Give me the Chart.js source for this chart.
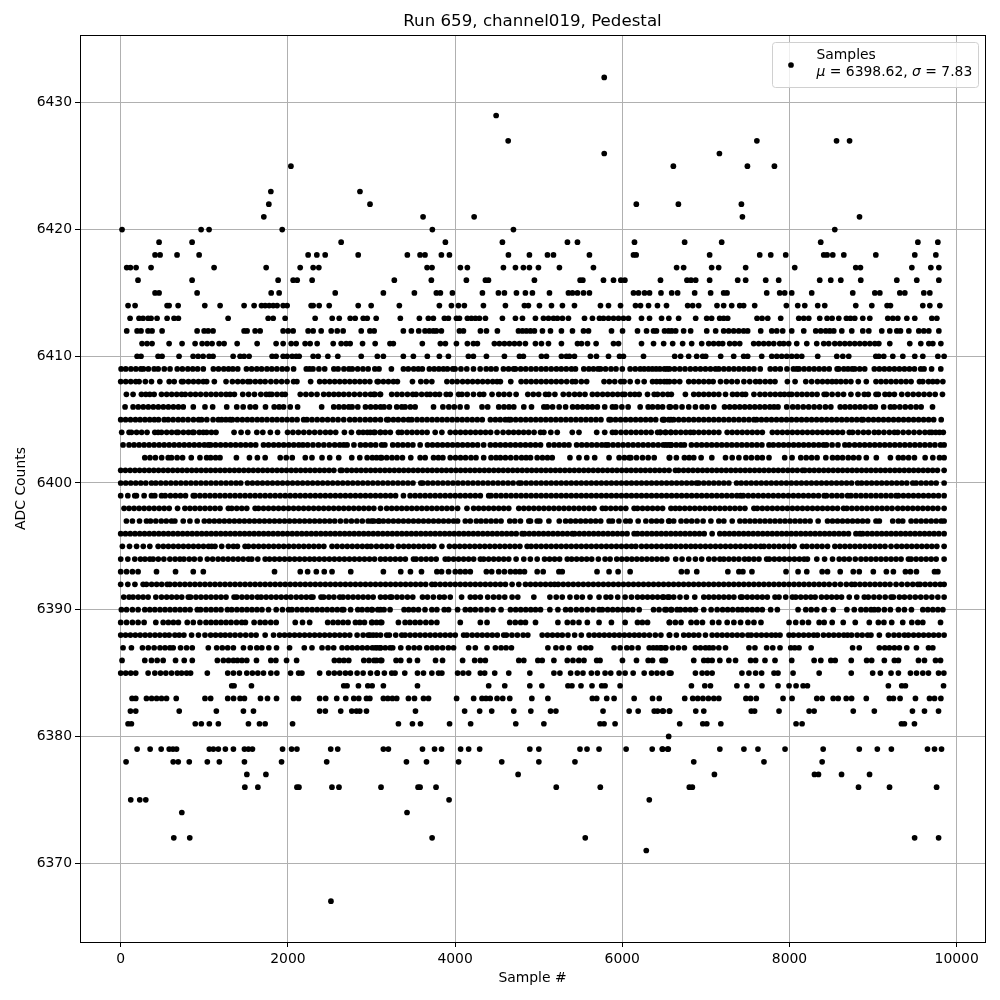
<!DOCTYPE html>
<html>
<head>
<meta charset="utf-8">
<title>Run 659, channel019, Pedestal</title>
<script src="https://cdn.jsdelivr.net/npm/chart.js@4/dist/chart.umd.min.js"></script>
<style>
  body { margin: 0; background: #fff; }
  canvas { display: block; }
</style>
</head>
<body>
<canvas id="chart_pedestal" width="1000" height="1000"></canvas>
<script>
// sample numbers, one list per ADC level
const s6432 = [5784];
const s6429 = [4491];
const s6427 = [4635, 7610, 8563, 8719];
const s6426 = [5784, 7162];
const s6425 = [2036, 6611, 7497, 7820];
const s6423 = [1796, 2862];
const s6422 = [1772, 2982, 6168, 6671, 7425];
const s6421 = [1712, 3617, 4228, 7437, 8838];
const s6420 = [16, 962, 1057, 1932, 3728, 4698, 8542];
const s6419 = [459, 854, 2637, 3884, 4566, 5344, 5464, 6146, 6746, 7189, 8374, 9536, 9775];
const s6418 = [411, 471, 674, 938, 2242, 2346, 2446, 2841, 3429, 3581, 3640, 3836, 3932, 4638, 4889, 5105, 5177, 5607, 6134, 6166, 7045, 7644, 7776, 7955, 8410, 8450, 8518, 8650, 9033, 9499, 9751];
const s6417 = [72, 116, 184, 363, 1117, 1740, 2147, 2302, 2370, 3665, 3724, 4063, 4147, 4578, 4722, 4817, 4889, 4997, 5248, 5655, 6650, 6734, 7069, 7153, 7476, 8063, 8793, 8849, 9464, 9691, 9787];
const s6416 = [207, 854, 1883, 2063, 2111, 2290, 3273, 3716, 4135, 4363, 4399, 4949, 5496, 5528, 5775, 5895, 5983, 6031, 6457, 6774, 6822, 6878, 7045, 7381, 7476, 7716, 7871, 8362, 8494, 8614, 8853, 9284, 9523, 9787];
const s6415 = [411, 459, 914, 1800, 1895, 2566, 3142, 3513, 3776, 3824, 3968, 4327, 4518, 4590, 4734, 4841, 4925, 5129, 5356, 5404, 5464, 5536, 5607, 6134, 6194, 6266, 6326, 6463, 6591, 6662, 6866, 7057, 7213, 7253, 7728, 7883, 7943, 8027, 8266, 8757, 9021, 9081, 9320, 9380, 9607, 9679];
const s6414 = [88, 172, 555, 579, 687, 1006, 1189, 1476, 1596, 1684, 1728, 1776, 1824, 1871, 1943, 1991, 2278, 2302, 2374, 2494, 2841, 2996, 3333, 3812, 3956, 4040, 4111, 4339, 4602, 4829, 4877, 5009, 5153, 5284, 5428, 5739, 5835, 5979, 6158, 6218, 6314, 6421, 6529, 6782, 6842, 6914, 7133, 7213, 7309, 7405, 7452, 7584, 7963, 8099, 8183, 8338, 8422, 8793, 8985, 9168, 9208, 9595, 9679, 9799];
const s6413 = [112, 219, 267, 327, 363, 435, 555, 638, 690, 1285, 1764, 1824, 1967, 2326, 2530, 2614, 2745, 2805, 2901, 2949, 3056, 3345, 3573, 3680, 3740, 3872, 3920, 4016, 4052, 4147, 4195, 4243, 4291, 4363, 4566, 4722, 4806, 4961, 5057, 5117, 5177, 5224, 5284, 5356, 5548, 5643, 5727, 5775, 5835, 5895, 5955, 6014, 6074, 6230, 6326, 6470, 6557, 6674, 6878, 7010, 7069, 7165, 7213, 7261, 7612, 7672, 7740, 7895, 8111, 8171, 8231, 8362, 8450, 8510, 8590, 8681, 8729, 8781, 8877, 8961, 9176, 9236, 9296, 9404, 9499, 9703, 9763];
const s6412 = [72, 196, 243, 327, 375, 495, 914, 998, 1046, 1105, 1476, 1512, 1608, 1668, 1943, 2003, 2063, 2242, 2302, 2398, 2518, 2590, 2661, 2877, 2981, 3032, 3381, 3477, 3565, 3640, 3692, 3740, 3776, 3836, 4052, 4100, 4303, 4375, 4506, 4758, 4806, 4853, 4901, 4949, 5045, 5141, 5272, 5404, 5536, 5596, 5871, 6003, 6182, 6290, 6374, 6409, 6505, 6553, 6591, 6639, 6734, 6818, 7010, 7117, 7213, 7273, 7333, 7393, 7452, 7500, 7656, 7788, 7848, 7919, 8027, 8171, 8314, 8374, 8434, 8482, 8530, 8626, 8745, 8877, 8949, 9104, 9200, 9284, 9328, 9428, 9547, 9607, 9667, 9787];
const s6411 = [255, 315, 375, 579, 734, 890, 974, 1034, 1093, 1177, 1237, 1393, 1632, 1859, 1943, 2039, 2099, 2206, 2266, 2350, 2542, 2637, 2697, 2745, 2893, 3044, 3221, 3261, 3608, 3824, 3884, 4016, 4147, 4219, 4267, 4470, 4530, 4590, 4650, 4710, 4770, 4841, 4961, 5033, 5117, 5272, 5464, 5512, 5584, 5687, 5895, 5955, 6230, 6374, 6495, 6603, 6722, 6830, 6950, 7034, 7093, 7153, 7201, 7285, 7345, 7405, 7572, 7632, 7692, 7752, 7812, 7883, 7931, 7991, 8087, 8207, 8326, 8410, 8470, 8542, 8602, 8662, 8721, 8781, 8841, 8901, 8961, 9021, 9069, 9200, 9439, 9571, 9667, 9715, 9811];
const s6410 = [196, 243, 447, 495, 698, 866, 926, 986, 1057, 1105, 1345, 1428, 1476, 1536, 1811, 1859, 1943, 1991, 2051, 2099, 2135, 2302, 2362, 2478, 2597, 2877, 3070, 3142, 3381, 3501, 3668, 3812, 3920, 4159, 4219, 4375, 4590, 4770, 4817, 5033, 5093, 5272, 5332, 5368, 5428, 5619, 5691, 5835, 5967, 6014, 6254, 6627, 6698, 6794, 6890, 6962, 6998, 7177, 7333, 7452, 7500, 7668, 7788, 7848, 7907, 7967, 8027, 8087, 8147, 8338, 8566, 8638, 8709, 9033, 9069, 9128, 9236, 9356, 9499, 9595, 9775, 9850];
const s6409 = [5, 60, 122, 181, 240, 272, 331, 400, 448, 521, 590, 676, 738, 803, 862, 920, 988, 1108, 1170, 1233, 1290, 1342, 1400, 1504, 1566, 1628, 1685, 1749, 1807, 1868, 1932, 1990, 2068, 2220, 2260, 2300, 2371, 2440, 2550, 2600, 2670, 2730, 2770, 2835, 2898, 2960, 3040, 3090, 3238, 3382, 3440, 3505, 3560, 3608, 3692, 3750, 3806, 3860, 3908, 3972, 4000, 4070, 4140, 4220, 4300, 4372, 4430, 4490, 4578, 4640, 4700, 4722, 4785, 4845, 4908, 4968, 5030, 5088, 5150, 5212, 5270, 5330, 5392, 5440, 5540, 5600, 5655, 5710, 5740, 5800, 5865, 5925, 6000, 6094, 6155, 6214, 6262, 6314, 6360, 6405, 6450, 6535, 6503, 6565, 6625, 6688, 6750, 6814, 6875, 6935, 6995, 7055, 7115, 7155, 7215, 7275, 7335, 7395, 7455, 7515, 7575, 7650, 7770, 7830, 7890, 7970, 8047, 8087, 8115, 8175, 8235, 8295, 8355, 8415, 8475, 8570, 8590, 8650, 8700, 8750, 8781, 8840, 8900, 9015, 9075, 9135, 9195, 9255, 9315, 9375, 9435, 9495, 9570, 9610, 9700, 9810];
const s6408 = [0, 60, 120, 180, 220, 295, 368, 468, 580, 640, 728, 748, 810, 870, 930, 988, 1028, 1120, 1260, 1336, 1400, 1460, 1520, 1548, 1610, 1670, 1728, 1796, 1860, 1925, 1990, 2068, 2108, 2272, 2380, 2440, 2500, 2560, 2620, 2680, 2740, 2800, 2860, 2920, 2980, 3068, 3082, 3142, 3202, 3262, 3310, 3490, 3590, 3655, 3722, 3902, 3965, 4025, 4090, 4150, 4210, 4270, 4330, 4390, 4450, 4502, 4542, 4666, 4790, 4850, 4910, 4970, 5030, 5090, 5150, 5210, 5270, 5335, 5402, 5442, 5510, 5574, 5782, 5845, 5910, 5982, 6022, 6094, 6182, 6262, 6362, 6410, 6454, 6534, 6503, 6565, 6623, 6687, 6795, 6855, 6915, 6975, 7035, 7087, 7175, 7245, 7310, 7375, 7455, 7525, 7595, 7647, 7710, 7770, 7827, 7975, 8067, 8195, 8265, 8335, 8395, 8455, 8510, 8560, 8615, 8675, 8735, 8823, 8919, 9035, 9095, 9155, 9215, 9275, 9335, 9395, 9455, 9555, 9595, 9663, 9715, 9767, 9835];
const s6407 = [68, 148, 248, 300, 348, 400, 488, 550, 610, 670, 728, 772, 835, 895, 956, 1020, 1080, 1140, 1200, 1260, 1308, 1360, 1460, 1530, 1600, 1676, 1740, 1780, 1808, 1870, 1930, 1968, 2148, 2215, 2280, 2348, 2428, 2490, 2550, 2608, 2668, 2730, 2795, 2860, 2925, 2988, 3028, 3108, 3042, 3102, 3242, 3305, 3365, 3430, 3494, 3534, 3600, 3662, 3702, 3762, 3814, 3894, 3942, 4042, 4082, 4145, 4220, 4294, 4342, 4442, 4522, 4585, 4650, 4730, 4870, 4935, 5000, 5082, 5122, 5194, 5294, 5362, 5430, 5490, 5554, 5642, 5702, 5765, 5825, 5885, 5945, 6002, 6030, 6095, 6150, 6202, 6302, 6382, 6422, 6485, 6545, 6587, 6755, 6855, 6915, 6975, 7035, 7095, 7155, 7235, 7319, 7375, 7435, 7475, 7575, 7647, 7707, 7770, 7830, 7890, 7940, 7995, 8027, 8090, 8150, 8210, 8270, 8330, 8415, 8443, 8510, 8580, 8647, 8735, 8820, 8895, 8943, 9035, 9063, 9143, 9195, 9255, 9343, 9415, 9480, 9545, 9610, 9675, 9743, 9830];
const s6406 = [52, 148, 210, 270, 330, 390, 450, 510, 570, 630, 690, 748, 868, 1008, 1100, 1268, 1388, 1465, 1548, 1612, 1732, 1836, 1895, 1948, 2028, 2116, 2404, 2548, 2610, 2670, 2728, 2768, 2836, 2928, 2990, 3050, 3108, 3150, 3214, 3302, 3362, 3402, 3465, 3522, 3742, 3854, 3925, 3990, 4060, 4142, 4322, 4390, 4522, 4585, 4645, 4702, 4822, 4914, 5062, 5102, 5166, 5245, 5322, 5406, 5465, 5525, 5585, 5642, 5702, 5790, 5882, 5922, 5995, 6070, 6214, 6310, 6362, 6425, 6482, 6562, 6575, 6640, 6715, 6795, 6875, 6955, 7015, 7095, 7223, 7285, 7345, 7405, 7465, 7525, 7585, 7645, 7705, 7765, 7815, 7863, 7967, 8039, 8100, 8165, 8230, 8295, 8360, 8430, 8495, 8607, 8665, 8725, 8785, 8845, 8905, 8975, 9027, 9127, 9207, 9255, 9320, 9385, 9450, 9515, 9575, 9711];
const s6405 = [0, 58, 117, 176, 232, 290, 347, 402, 452, 520, 568, 627, 688, 745, 806, 870, 932, 968, 1030, 1105, 1168, 1208, 1258, 1308, 1336, 1395, 1455, 1515, 1572, 1633, 1690, 1750, 1812, 1870, 1930, 1990, 2050, 2110, 2188, 2228, 2288, 2350, 2412, 2475, 2538, 2600, 2668, 2740, 2800, 2862, 2925, 2985, 3045, 3108, 3182, 3202, 3262, 3320, 3382, 3442, 3482, 3545, 3605, 3665, 3725, 3785, 3845, 3905, 3965, 4025, 4085, 4145, 4205, 4265, 4325, 4422, 4482, 4540, 4600, 4642, 4666, 4725, 4785, 4845, 4905, 4965, 5025, 5085, 5145, 5205, 5265, 5325, 5385, 5445, 5505, 5565, 5625, 5685, 5745, 5842, 5862, 5920, 5980, 6040, 6100, 6160, 6220, 6280, 6340, 6400, 6482, 6502, 6582, 6495, 6555, 6615, 6675, 6735, 6795, 6855, 6915, 6975, 7035, 7095, 7155, 7215, 7275, 7335, 7395, 7455, 7515, 7575, 7607, 7665, 7725, 7785, 7845, 7905, 7965, 8025, 8085, 8145, 8205, 8265, 8325, 8385, 8445, 8505, 8565, 8625, 8685, 8745, 8805, 8863, 8883, 8945, 9005, 9065, 9125, 9185, 9245, 9305, 9365, 9425, 9485, 9545, 9605, 9665, 9725, 9815];
const s6404 = [12, 100, 128, 190, 250, 315, 408, 448, 488, 550, 610, 668, 688, 750, 810, 860, 876, 940, 988, 1028, 1085, 1140, 1356, 1440, 1520, 1628, 1700, 1790, 1876, 1996, 2060, 2125, 2190, 2255, 2320, 2385, 2450, 2508, 2572, 2676, 2760, 2848, 2900, 2950, 2985, 3028, 3108, 3042, 3105, 3165, 3225, 3322, 3362, 3425, 3485, 3545, 3605, 3665, 3762, 3842, 3942, 4005, 4065, 4125, 4185, 4245, 4305, 4365, 4425, 4502, 4574, 4640, 4700, 4760, 4820, 4880, 4945, 5022, 5062, 5145, 5222, 5402, 5482, 5694, 5790, 5882, 5922, 5985, 6045, 6105, 6165, 6225, 6285, 6345, 6422, 6454, 6515, 6582, 6455, 6520, 6580, 6640, 6700, 6760, 6815, 6855, 6915, 6975, 7035, 7095, 7155, 7255, 7315, 7375, 7435, 7495, 7555, 7615, 7675, 7795, 7855, 7915, 7975, 8035, 8095, 8155, 8215, 8275, 8335, 8395, 8455, 8515, 8575, 8635, 8715, 8755, 8820, 8885, 8945, 9015, 9067, 9130, 9195, 9255, 9295, 9360, 9425, 9490, 9555, 9620, 9675, 9703, 9750, 9795, 9840];
const s6403 = [28, 100, 160, 220, 280, 340, 400, 460, 520, 580, 640, 700, 760, 820, 880, 940, 1000, 1048, 1076, 1135, 1195, 1255, 1315, 1375, 1435, 1495, 1555, 1615, 1708, 1768, 1830, 1890, 1950, 2010, 2070, 2130, 2180, 2236, 2300, 2365, 2430, 2495, 2560, 2620, 2668, 2708, 2790, 2868, 2928, 2990, 3050, 3122, 3160, 3254, 3315, 3375, 3435, 3495, 3582, 3670, 3730, 3790, 3850, 3910, 3970, 4030, 4090, 4150, 4210, 4270, 4342, 4422, 4482, 4542, 4602, 4662, 4722, 4782, 4842, 4902, 4962, 5022, 5122, 5185, 5245, 5305, 5362, 5454, 5515, 5575, 5635, 5695, 5755, 5802, 5830, 5890, 5950, 6010, 6070, 6130, 6190, 6250, 6310, 6370, 6430, 6490, 6550, 6582, 6520, 6585, 6645, 6700, 6743, 6827, 6890, 6950, 7010, 7070, 7130, 7190, 7250, 7310, 7370, 7430, 7490, 7550, 7610, 7670, 7755, 7807, 7870, 7930, 7990, 8050, 8110, 8170, 8230, 8290, 8350, 8407, 8443, 8510, 8580, 8663, 8715, 8780, 8840, 8900, 8960, 9020, 9080, 9140, 9200, 9260, 9320, 9380, 9440, 9500, 9560, 9620, 9680, 9740, 9807, 9850];
const s6402 = [288, 350, 415, 490, 568, 608, 675, 740, 844, 948, 1028, 1076, 1135, 1188, 1384, 1540, 1635, 1728, 1908, 1980, 2052, 2208, 2288, 2408, 2500, 2608, 2764, 2860, 2948, 3010, 3060, 3108, 3122, 3182, 3245, 3305, 3370, 3470, 3582, 3642, 3742, 3800, 3854, 3942, 4005, 4065, 4125, 4190, 4250, 4342, 4430, 4490, 4542, 4602, 4665, 4730, 4795, 4850, 4902, 4982, 5045, 5105, 5162, 5374, 5482, 5575, 5670, 5842, 5962, 6025, 6082, 6102, 6170, 6242, 6310, 6382, 6562, 6567, 6647, 6743, 6800, 6855, 6943, 7071, 7235, 7315, 7395, 7479, 7545, 7615, 7675, 7755, 7943, 8031, 8135, 8200, 8265, 8330, 8435, 8515, 8575, 8635, 8703, 8765, 8830, 8919, 9039, 9207, 9303, 9360, 9425, 9495, 9623, 9715, 9795, 9850];
const s6401 = [0, 56, 113, 170, 226, 283, 340, 396, 453, 510, 566, 623, 680, 736, 793, 850, 906, 963, 1020, 1076, 1133, 1190, 1246, 1303, 1360, 1416, 1473, 1530, 1586, 1643, 1700, 1756, 1813, 1870, 1926, 1983, 2040, 2096, 2153, 2210, 2266, 2323, 2380, 2436, 2493, 2550, 2628, 2648, 2706, 2763, 2820, 2876, 2933, 2990, 3046, 3103, 3160, 3216, 3273, 3330, 3386, 3443, 3500, 3556, 3613, 3670, 3726, 3783, 3840, 3896, 3953, 4010, 4066, 4123, 4180, 4236, 4293, 4350, 4406, 4463, 4520, 4576, 4633, 4690, 4746, 4803, 4860, 4916, 4973, 5030, 5086, 5143, 5200, 5256, 5313, 5370, 5426, 5483, 5540, 5596, 5653, 5710, 5766, 5823, 5880, 5936, 5993, 6050, 6106, 6163, 6220, 6276, 6333, 6390, 6446, 6503, 6560, 6635, 6675, 6733, 6790, 6846, 6903, 6960, 7016, 7073, 7130, 7186, 7243, 7300, 7356, 7413, 7470, 7526, 7583, 7640, 7696, 7753, 7810, 7866, 7923, 7980, 8036, 8093, 8155, 8183, 8240, 8296, 8353, 8410, 8466, 8523, 8580, 8636, 8693, 8750, 8806, 8863, 8920, 8976, 9033, 9090, 9146, 9203, 9260, 9316, 9373, 9430, 9486, 9543, 9600, 9656, 9713, 9770, 9850];
const s6400 = [0, 60, 120, 180, 240, 300, 368, 420, 480, 540, 600, 660, 720, 780, 840, 900, 960, 1020, 1080, 1140, 1200, 1260, 1320, 1380, 1436, 1516, 1576, 1636, 1696, 1756, 1816, 1876, 1936, 1996, 2056, 2116, 2176, 2236, 2296, 2356, 2416, 2476, 2536, 2596, 2656, 2716, 2776, 2836, 2896, 2956, 3016, 3076, 3136, 3196, 3256, 3316, 3376, 3436, 3496, 3590, 3614, 3674, 3734, 3794, 3854, 3914, 3974, 4034, 4094, 4154, 4214, 4274, 4334, 4394, 4454, 4514, 4574, 4634, 4694, 4762, 4790, 4850, 4910, 4970, 5030, 5090, 5150, 5210, 5270, 5330, 5390, 5450, 5510, 5570, 5630, 5690, 5750, 5810, 5870, 5930, 5990, 6050, 6110, 6170, 6230, 6290, 6350, 6410, 6470, 6530, 6590, 6650, 6710, 6770, 6830, 6887, 6915, 6975, 7035, 7095, 7155, 7215, 7275, 7367, 7423, 7483, 7543, 7603, 7663, 7723, 7783, 7843, 7903, 7963, 8023, 8083, 8143, 8203, 8263, 8323, 8383, 8443, 8503, 8563, 8623, 8683, 8743, 8815, 8863, 8923, 8983, 9043, 9103, 9163, 9223, 9283, 9343, 9403, 9475, 9515, 9575, 9635, 9695, 9755, 9850];
const s6399 = [0, 85, 168, 188, 280, 368, 408, 488, 532, 595, 655, 715, 775, 868, 888, 948, 1008, 1068, 1128, 1188, 1248, 1308, 1368, 1428, 1488, 1548, 1608, 1668, 1728, 1788, 1848, 1908, 1968, 2028, 2088, 2148, 2208, 2268, 2328, 2388, 2448, 2508, 2568, 2628, 2688, 2748, 2808, 2868, 2928, 2988, 3048, 3108, 3168, 3228, 3288, 3382, 3462, 3522, 3582, 3642, 3702, 3762, 3822, 3882, 3942, 4002, 4062, 4122, 4182, 4242, 4302, 4402, 4430, 4490, 4550, 4610, 4670, 4730, 4790, 4850, 4910, 4970, 5030, 5090, 5150, 5210, 5270, 5330, 5390, 5450, 5510, 5570, 5630, 5690, 5750, 5810, 5870, 5930, 5990, 6050, 6110, 6170, 6230, 6290, 6350, 6410, 6470, 6530, 6590, 6650, 6710, 6770, 6830, 6890, 6950, 7010, 7070, 7130, 7190, 7250, 7310, 7370, 7415, 7447, 7507, 7567, 7627, 7687, 7747, 7807, 7867, 7927, 7987, 8047, 8107, 8167, 8227, 8287, 8347, 8415, 8443, 8507, 8567, 8627, 8695, 8735, 8795, 8855, 8915, 8975, 9035, 9095, 9155, 9215, 9275, 9303, 9363, 9423, 9483, 9543, 9603, 9663, 9723, 9783, 9850];
const s6398 = [40, 100, 160, 220, 280, 340, 400, 460, 520, 580, 680, 768, 828, 888, 948, 1008, 1068, 1128, 1188, 1288, 1328, 1388, 1448, 1508, 1608, 1648, 1708, 1768, 1828, 1888, 1948, 2008, 2068, 2128, 2188, 2248, 2308, 2368, 2428, 2488, 2548, 2608, 2668, 2728, 2788, 2848, 2908, 2968, 3028, 3108, 3182, 3242, 3302, 3362, 3422, 3482, 3542, 3602, 3662, 3722, 3782, 3842, 3902, 3962, 4030, 4142, 4222, 4282, 4342, 4402, 4462, 4522, 4582, 4642, 4762, 4822, 4882, 4942, 5002, 5062, 5122, 5182, 5242, 5302, 5362, 5422, 5482, 5542, 5602, 5662, 5762, 5802, 5862, 5922, 5982, 6042, 6142, 6182, 6242, 6302, 6362, 6422, 6482, 6582, 6635, 6687, 6747, 6807, 6867, 6927, 6987, 7047, 7107, 7167, 7227, 7287, 7347, 7407, 7467, 7575, 7615, 7675, 7735, 7795, 7855, 7915, 7975, 8035, 8095, 8155, 8215, 8275, 8335, 8395, 8455, 8515, 8575, 8647, 8687, 8747, 8807, 8867, 8927, 8987, 9047, 9107, 9167, 9227, 9295, 9355, 9415, 9475, 9535, 9595, 9655, 9715, 9775, 9850];
const s6397 = [68, 140, 225, 308, 356, 420, 485, 545, 608, 648, 748, 828, 915, 1000, 1060, 1120, 1180, 1240, 1300, 1360, 1420, 1480, 1540, 1600, 1660, 1720, 1780, 1840, 1900, 1960, 2020, 2080, 2140, 2200, 2260, 2320, 2380, 2440, 2500, 2560, 2628, 2696, 2760, 2825, 2890, 2960, 3028, 3092, 3002, 3082, 3142, 3202, 3262, 3322, 3382, 3442, 3502, 3562, 3622, 3682, 3742, 3802, 3862, 3922, 3982, 4030, 4122, 4182, 4254, 4310, 4370, 4430, 4490, 4550, 4654, 4714, 4782, 4882, 4902, 4982, 5014, 5122, 5246, 5322, 5382, 5442, 5502, 5562, 5622, 5682, 5742, 5842, 5882, 5960, 6042, 6094, 6190, 6282, 6350, 6410, 6470, 6562, 6555, 6615, 6703, 6767, 6830, 6895, 6967, 7060, 7155, 7215, 7315, 7407, 7467, 7527, 7587, 7647, 7707, 7767, 7827, 7887, 7947, 8007, 8067, 8127, 8187, 8247, 8343, 8455, 8515, 8575, 8635, 8695, 8755, 8815, 8875, 8935, 9035, 9075, 9235, 9303, 9355, 9455, 9515, 9575, 9635, 9695, 9755, 9815, 9850];
const s6396 = [0, 57, 114, 171, 228, 285, 342, 399, 456, 513, 570, 627, 684, 741, 798, 855, 912, 969, 1026, 1083, 1140, 1197, 1254, 1311, 1368, 1425, 1482, 1539, 1596, 1653, 1710, 1767, 1824, 1881, 1938, 1995, 2052, 2109, 2166, 2223, 2280, 2337, 2394, 2451, 2508, 2565, 2622, 2679, 2736, 2793, 2850, 2907, 2964, 3021, 3078, 3135, 3192, 3249, 3306, 3363, 3420, 3477, 3534, 3591, 3648, 3705, 3762, 3819, 3876, 3933, 3990, 4047, 4104, 4161, 4218, 4275, 4332, 4389, 4446, 4503, 4560, 4617, 4674, 4731, 4802, 4830, 4887, 4944, 5001, 5058, 5115, 5172, 5229, 5286, 5343, 5402, 5430, 5487, 5544, 5601, 5658, 5715, 5772, 5829, 5886, 5943, 6000, 6057, 6142, 6182, 6239, 6296, 6353, 6410, 6467, 6524, 6581, 6638, 6695, 6752, 6809, 6866, 6923, 6980, 7075, 7167, 7224, 7281, 7338, 7395, 7452, 7509, 7566, 7623, 7680, 7737, 7794, 7851, 7908, 7965, 8022, 8079, 8136, 8193, 8250, 8307, 8364, 8421, 8478, 8535, 8592, 8649, 8706, 8795, 8843, 8875, 8932, 8989, 9046, 9103, 9160, 9217, 9274, 9331, 9388, 9445, 9502, 9559, 9616, 9673, 9730, 9787, 9850];
const s6395 = [20, 105, 190, 270, 348, 448, 510, 570, 630, 690, 750, 810, 870, 930, 990, 1050, 1088, 1128, 1208, 1288, 1348, 1396, 1488, 1528, 1590, 1650, 1710, 1770, 1830, 1890, 1950, 2010, 2070, 2130, 2190, 2250, 2310, 2370, 2430, 2528, 2588, 2650, 2710, 2770, 2830, 2890, 2948, 2996, 3060, 3122, 3182, 3242, 3322, 3385, 3445, 3505, 3565, 3625, 3685, 3745, 3842, 3932, 3995, 4055, 4115, 4175, 4235, 4295, 4355, 4415, 4475, 4535, 4595, 4655, 4715, 4775, 4862, 4910, 4970, 5030, 5090, 5150, 5210, 5270, 5330, 5390, 5450, 5510, 5570, 5630, 5690, 5750, 5810, 5870, 5930, 5990, 6050, 6110, 6162, 6230, 6290, 6350, 6410, 6470, 6530, 6582, 6640, 6700, 6760, 6820, 6875, 6935, 6995, 7055, 7115, 7175, 7235, 7295, 7355, 7415, 7475, 7535, 7595, 7655, 7695, 7755, 7815, 7875, 7935, 7995, 8055, 8155, 8207, 8270, 8330, 8390, 8455, 8543, 8603, 8663, 8723, 8783, 8843, 8903, 8963, 9023, 9083, 9143, 9215, 9283, 9343, 9403, 9463, 9523, 9583, 9643, 9703, 9763, 9850];
const s6394 = [0, 85, 168, 236, 290, 348, 388, 450, 516, 588, 650, 708, 756, 820, 880, 950, 1036, 1100, 1165, 1225, 1285, 1345, 1405, 1465, 1528, 1568, 1640, 1728, 1780, 1840, 1900, 1960, 2020, 2080, 2140, 2200, 2260, 2316, 2376, 2436, 2496, 2556, 2616, 2676, 2736, 2796, 2856, 2916, 2976, 3036, 3108, 3165, 3225, 3285, 3345, 3405, 3502, 3534, 3594, 3654, 3714, 3774, 3882, 3922, 3982, 4042, 4102, 4162, 4222, 4302, 4342, 4402, 4462, 4522, 4582, 4642, 4730, 4822, 4900, 4982, 5070, 5130, 5190, 5250, 5342, 5394, 5454, 5514, 5574, 5634, 5714, 5794, 5854, 5934, 5994, 6054, 6114, 6174, 6234, 6294, 6354, 6414, 6474, 6534, 6639, 6715, 6795, 6875, 6950, 7035, 7100, 7167, 7215, 7275, 7335, 7395, 7463, 7515, 7575, 7635, 7727, 7759, 7819, 7879, 7939, 7999, 8059, 8119, 8175, 8215, 8327, 8420, 8515, 8595, 8655, 8715, 8787, 8855, 8915, 8975, 9035, 9095, 9155, 9215, 9275, 9335, 9423, 9455, 9515, 9575, 9635, 9695, 9755, 9850];
const s6393 = [0, 70, 140, 208, 428, 656, 868, 988, 1840, 2148, 2236, 2340, 2435, 2528, 2752, 3142, 3350, 3466, 3598, 3782, 3838, 3922, 4002, 4062, 4122, 4182, 4374, 4438, 4522, 4590, 4662, 4722, 4775, 4830, 4982, 5054, 5242, 5282, 5698, 5842, 5950, 6094, 6707, 6775, 6891, 7263, 7395, 7443, 7551, 7959, 8103, 8207, 8391, 8455, 8607, 8763, 8835, 9003, 9159, 9243, 9387, 9447, 9519, 9735, 9775];
const s6392 = [0, 85, 170, 268, 308, 370, 430, 490, 556, 588, 648, 708, 768, 828, 888, 948, 1008, 1068, 1128, 1188, 1248, 1308, 1368, 1428, 1488, 1548, 1608, 1668, 1728, 1788, 1848, 1908, 1968, 2028, 2088, 2148, 2208, 2268, 2328, 2388, 2448, 2508, 2568, 2628, 2688, 2748, 2808, 2868, 2928, 2988, 3048, 3108, 3168, 3228, 3288, 3348, 3408, 3468, 3528, 3588, 3648, 3722, 3762, 3822, 3882, 3942, 4002, 4062, 4122, 4182, 4242, 4302, 4362, 4422, 4482, 4542, 4602, 4682, 4762, 4842, 4902, 4962, 5022, 5082, 5142, 5190, 5234, 5294, 5354, 5414, 5474, 5534, 5594, 5654, 5714, 5774, 5834, 5894, 5954, 6014, 6074, 6134, 6194, 6254, 6314, 6374, 6434, 6494, 6554, 6614, 6674, 6734, 6794, 6854, 6914, 6974, 7034, 7094, 7154, 7214, 7274, 7334, 7394, 7454, 7514, 7574, 7634, 7694, 7754, 7814, 7874, 7934, 7994, 8054, 8114, 8174, 8234, 8294, 8354, 8414, 8475, 8543, 8610, 8680, 8743, 8783, 8843, 8903, 8963, 9023, 9083, 9143, 9203, 9275, 9343, 9410, 9475, 9535, 9563, 9623, 9683, 9743, 9803, 9850];
const s6391 = [36, 100, 148, 210, 268, 328, 420, 488, 550, 610, 670, 730, 808, 836, 900, 960, 1020, 1080, 1140, 1200, 1260, 1356, 1388, 1450, 1510, 1570, 1636, 1680, 1740, 1800, 1860, 1920, 1980, 2036, 2100, 2160, 2220, 2276, 2300, 2396, 2428, 2490, 2550, 2620, 2660, 2720, 2780, 2840, 2900, 2960, 3020, 3108, 3165, 3222, 3242, 3305, 3365, 3430, 3494, 3610, 3670, 3740, 3814, 3870, 3942, 4078, 4182, 4240, 4302, 4390, 4460, 4525, 4594, 4682, 4750, 4942, 5134, 5210, 5282, 5374, 5454, 5522, 5614, 5722, 5806, 5862, 5945, 6034, 6110, 6182, 6242, 6302, 6362, 6422, 6482, 6562, 6495, 6543, 6615, 6690, 6767, 6867, 6975, 7035, 7095, 7155, 7215, 7275, 7335, 7415, 7435, 7495, 7555, 7615, 7675, 7735, 7827, 7875, 7955, 8035, 8075, 8135, 8195, 8255, 8307, 8383, 8445, 8505, 8565, 8623, 8715, 8805, 8895, 8943, 9010, 9075, 9145, 9215, 9243, 9315, 9375, 9440, 9505, 9570, 9635, 9703, 9775, 9850];
const s6390 = [8, 70, 140, 208, 288, 348, 408, 470, 530, 590, 650, 710, 770, 830, 916, 956, 1020, 1080, 1140, 1200, 1276, 1328, 1390, 1450, 1510, 1570, 1630, 1690, 1768, 1860, 1935, 2008, 2048, 2110, 2170, 2230, 2290, 2350, 2410, 2470, 2530, 2590, 2648, 2668, 2750, 2836, 2888, 2950, 3010, 3108, 3002, 3075, 3150, 3222, 3390, 3445, 3502, 3562, 3640, 3722, 3782, 3870, 3922, 4030, 4122, 4182, 4242, 4310, 4382, 4454, 4550, 4662, 4725, 4785, 4845, 4905, 4962, 5022, 5134, 5230, 5322, 5382, 5450, 5515, 5582, 5650, 5722, 5762, 5825, 5885, 5945, 6005, 6065, 6125, 6202, 6374, 6440, 6510, 6582, 6527, 6590, 6655, 6695, 6755, 6815, 6875, 6975, 7063, 7135, 7200, 7260, 7320, 7383, 7435, 7495, 7555, 7615, 7675, 7775, 7855, 8103, 8195, 8260, 8327, 8415, 8523, 8687, 8775, 8855, 8915, 8975, 9015, 9063, 9135, 9207, 9303, 9375, 9459, 9595, 9655, 9715, 9775, 9835];
const s6389 = [0, 70, 140, 208, 280, 420, 508, 570, 630, 690, 796, 868, 948, 1020, 1080, 1140, 1200, 1260, 1320, 1385, 1448, 1492, 1596, 1668, 1728, 1795, 1860, 2088, 2175, 2260, 2476, 2540, 2600, 2660, 2720, 2808, 2860, 2916, 3008, 3108, 3002, 3060, 3122, 3322, 3402, 3460, 3522, 3582, 3650, 3715, 3782, 4062, 4302, 4382, 4654, 4720, 4785, 4842, 4962, 5230, 5342, 5410, 5482, 5582, 5722, 5870, 6034, 6182, 6240, 6302, 6562, 6567, 6635, 6703, 6823, 6890, 6959, 7079, 7155, 7255, 7335, 7415, 7503, 7575, 7659, 7995, 8075, 8155, 8227, 8355, 8415, 8511, 8643, 8787, 8955, 9063, 9130, 9223, 9355, 9463, 9535, 9595, 9807];
const s6388 = [0, 58, 116, 175, 233, 292, 350, 410, 468, 528, 580, 648, 700, 756, 848, 930, 1008, 1076, 1135, 1195, 1250, 1308, 1368, 1430, 1495, 1560, 1620, 1728, 1828, 1900, 1960, 2020, 2080, 2140, 2200, 2260, 2320, 2380, 2440, 2500, 2560, 2620, 2680, 2740, 2828, 2900, 2960, 3020, 3108, 2982, 3060, 3182, 3214, 3290, 3362, 3402, 3462, 3522, 3582, 3642, 3702, 3762, 3822, 3882, 3942, 4002, 4102, 4142, 4205, 4265, 4325, 4385, 4445, 4505, 4582, 4614, 4680, 4745, 4814, 4870, 5042, 5105, 5165, 5225, 5282, 5350, 5430, 5510, 5602, 5665, 5725, 5785, 5845, 5905, 5965, 6025, 6085, 6145, 6202, 6262, 6325, 6395, 6462, 6562, 6567, 6647, 6735, 6795, 6855, 6915, 6995, 7075, 7135, 7195, 7255, 7315, 7375, 7435, 7503, 7543, 7605, 7665, 7725, 7785, 7835, 7887, 7995, 8047, 8110, 8170, 8230, 8290, 8335, 8407, 8470, 8530, 8590, 8650, 8695, 8743, 8810, 8870, 8935, 8975, 9075, 9183, 9250, 9310, 9375, 9423, 9485, 9545, 9605, 9665, 9725, 9785, 9850];
const s6387 = [28, 128, 260, 330, 400, 470, 530, 588, 628, 716, 788, 856, 1048, 1148, 1215, 1280, 1348, 1468, 1550, 1628, 1688, 1772, 1864, 2020, 2196, 2288, 2408, 2480, 2548, 2648, 2710, 2770, 2830, 2890, 2950, 3010, 3070, 3108, 3045, 3105, 3165, 3222, 3254, 3350, 3442, 3510, 3574, 3662, 3725, 3785, 3850, 3920, 3982, 4162, 4242, 4382, 4482, 4550, 4610, 4674, 5110, 5206, 5278, 5362, 5494, 5562, 5622, 5902, 5974, 6054, 6114, 6190, 6322, 6370, 6414, 6470, 6522, 6455, 6515, 6599, 6671, 6743, 6875, 6935, 6995, 7040, 7087, 7155, 7235, 7515, 7587, 7727, 7800, 7887, 8015, 8063, 8115, 8259, 8755, 8835, 9075, 9140, 9195, 9255, 9315, 9403, 9519, 9663, 9715];
const s6386 = [16, 288, 368, 436, 508, 656, 760, 856, 1156, 1228, 1290, 1348, 1396, 1450, 1508, 1624, 1796, 1856, 1984, 2104, 2556, 2615, 2670, 2728, 2908, 2970, 3030, 3108, 3060, 3122, 3294, 3350, 3454, 3550, 3766, 3850, 4090, 4234, 4302, 4362, 4762, 4822, 4990, 5042, 5182, 5342, 5410, 5480, 5542, 5694, 5734, 6002, 6170, 6310, 6362, 6502, 6475, 6515, 6855, 6975, 7025, 7075, 7167, 7275, 7355, 7535, 7595, 7707, 7827, 8027, 8295, 8375, 8495, 8547, 8739, 8923, 8983, 9135, 9255, 9303, 9543, 9615, 9747, 9807];
const s6385 = [0, 60, 120, 180, 328, 408, 476, 540, 608, 676, 728, 788, 836, 1036, 1280, 1348, 1420, 1508, 1575, 1640, 1708, 1796, 1868, 2032, 2128, 2168, 2380, 2488, 2555, 2620, 2688, 2748, 2828, 2900, 2988, 3068, 3070, 3154, 3242, 3282, 3398, 3550, 3622, 3722, 3802, 3842, 4030, 4095, 4162, 4302, 4354, 4474, 4642, 4894, 5182, 5254, 5382, 5462, 5530, 5630, 5702, 5794, 5862, 5962, 6034, 6130, 6262, 6350, 6415, 6482, 6562, 6583, 6875, 6955, 7015, 7075, 7431, 7515, 7595, 7667, 7815, 7863, 8043, 8355, 8739, 8995, 9087, 9215, 9303, 9447, 9520, 9595, 9663, 9783, 9847];
const s6384 = [1328, 1356, 1564, 2668, 2708, 2844, 2956, 3008, 3142, 3550, 4402, 4594, 4894, 5038, 5350, 5398, 5506, 5638, 5754, 5794, 5974, 6827, 6987, 7055, 7371, 7491, 7671, 7863, 7995, 8079, 8163, 8215, 9183, 9343, 9387, 9843];
const s6383 = [136, 180, 308, 370, 430, 488, 548, 664, 1008, 1076, 1280, 1350, 1428, 1480, 1672, 1756, 1864, 2068, 2128, 2380, 2452, 2584, 2692, 2788, 2848, 2940, 2980, 3142, 3195, 3250, 3302, 3442, 3514, 3622, 3682, 4018, 4222, 4322, 4370, 4420, 4502, 4570, 4654, 4918, 5110, 5642, 5694, 5814, 5902, 6142, 6362, 6442, 6747, 6843, 6903, 6965, 7030, 7095, 7155, 7479, 7535, 7603, 7923, 8031, 8327, 8391, 8523, 8583, 8679, 8743, 8919, 9195, 9243, 9323, 9507, 9675, 9735, 9811];
const s6382 = [116, 180, 700, 1144, 1468, 1588, 2380, 2448, 2632, 2764, 2820, 2860, 2940, 3526, 4114, 4294, 4438, 4702, 4906, 5142, 5206, 5770, 6082, 6190, 6382, 6422, 6490, 6562, 6483, 6567, 6879, 6975, 7543, 7583, 7875, 8235, 8295, 8763, 9015, 9471, 9615, 9783];
const s6381 = [88, 128, 892, 964, 1060, 1168, 1528, 1660, 1728, 2056, 3322, 3490, 3586, 3934, 4186, 4726, 5062, 5734, 5782, 5914, 6687, 6963, 7011, 7179, 8079, 8151, 9339, 9375, 9495];
const s6380 = [6555];
const s6379 = [196, 352, 484, 580, 625, 668, 1060, 1108, 1168, 1252, 1348, 1480, 1528, 1576, 1936, 2044, 2108, 2512, 2596, 3142, 3202, 3610, 3754, 3838, 4066, 4162, 4294, 4894, 5002, 5494, 5578, 5722, 6046, 6358, 6478, 6550, 6483, 6543, 7167, 7455, 7623, 7947, 8403, 8835, 9051, 9219, 9651, 9735, 9819];
const s6378 = [64, 628, 688, 820, 1036, 1180, 1480, 1924, 2464, 3418, 3658, 4042, 4558, 5002, 5434, 6855, 7695, 8391];
const s6377 = [1509, 1737, 4754, 7102, 8299, 8347, 8623, 8958];
const s6376 = [1485, 1641, 2108, 2132, 2527, 2611, 3114, 3557, 3581, 3772, 5210, 5737, 6802, 6838, 8826, 9197, 9760];
const s6375 = [120, 228, 300, 3928, 6323];
const s6374 = [731, 3425];
const s6372 = [635, 826, 3725, 5557, 9497, 9784];
const s6371 = [6287];
const s6367 = [2515];

const adcLevels = [6432, 6429, 6427, 6426, 6425, 6423, 6422, 6421, 6420, 6419, 6418, 6417, 6416, 6415, 6414, 6413, 6412, 6411, 6410, 6409, 6408, 6407, 6406, 6405, 6404, 6403, 6402, 6401, 6400, 6399, 6398, 6397, 6396, 6395, 6394, 6393, 6392, 6391, 6390, 6389, 6388, 6387, 6386, 6385, 6384, 6383, 6382, 6381, 6380, 6379, 6378, 6377, 6376, 6375, 6374, 6372, 6371, 6367];
const samplesByLevel = [s6432, s6429, s6427, s6426, s6425, s6423, s6422, s6421, s6420, s6419, s6418, s6417, s6416, s6415, s6414, s6413, s6412, s6411, s6410, s6409, s6408, s6407, s6406, s6405, s6404, s6403, s6402, s6401, s6400, s6399, s6398, s6397, s6396, s6395, s6394, s6393, s6392, s6391, s6390, s6389, s6388, s6387, s6386, s6385, s6384, s6383, s6382, s6381, s6380, s6379, s6378, s6377, s6376, s6375, s6374, s6372, s6371, s6367];

const xTickValues = [0, 2000, 4000, 6000, 8000, 10000];
const yTickValues = [6370, 6380, 6390, 6400, 6410, 6420, 6430];

const points = [];
adcLevels.forEach((level, i) => {
  samplesByLevel[i].forEach(x => points.push({ x: x, y: level }));
});

const FONT = '"DejaVu Sans"';

// spines on top of the points, then the legend box
const frameAndLegend = {
  id: 'frameAndLegend',
  afterDatasetsDraw(chart) {
    const { ctx, chartArea: a } = chart;
    ctx.save();
    ctx.strokeStyle = '#000';
    ctx.lineWidth = 1;
    ctx.strokeRect(Math.round(a.left) + 0.5, Math.round(a.top) + 0.5, Math.round(a.width), Math.round(a.height));

    ctx.beginPath();
    ctx.roundRect(772.5, 42.5, 206, 45, 3);
    ctx.fillStyle = 'rgba(255,255,255,0.8)';
    ctx.fill();
    ctx.strokeStyle = '#d0d0d0';
    ctx.stroke();

    ctx.beginPath();
    ctx.arc(791, 65, 2.85, 0, Math.PI * 2);
    ctx.fillStyle = '#000';
    ctx.fill();

    ctx.fillStyle = '#000';
    ctx.textBaseline = 'alphabetic';
    ctx.font = '13.9px ' + FONT;
    ctx.fillText('Samples', 816.5, 59);
    const parts = [['italic', '\u03bc'], ['normal', ' = 6398.62, '], ['italic', '\u03c3'], ['normal', ' = 7.83']];
    let x = 816.5;
    parts.forEach(p => {
      ctx.font = p[0] + ' 13.9px ' + FONT;
      ctx.fillText(p[1], x, 76);
      x += ctx.measureText(p[1]).width;
    });
    ctx.restore();
  }
};

const ctx_pedestal = document.getElementById('chart_pedestal').getContext('2d');
const pedestal = new Chart(ctx_pedestal, {
  type: 'scatter',
  data: {
    datasets: [{
      label: 'Samples',
      data: points,
      showLine: false,
      pointRadius: 2.85,
      pointBorderWidth: 0,
      pointBackgroundColor: '#000',
      pointHoverRadius: 2.85
    }]
  },
  options: {
    responsive: false,
    animation: false,
    events: [],
    layout: { padding: { left: 0, right: 15, top: 0, bottom: 0 } },
    plugins: {
      legend: { display: false },
      tooltip: { enabled: false },
      title: {
        display: true,
        fullSize: false,
        text: 'Run 659, channel019, Pedestal',
        color: '#000',
        font: { family: FONT, size: 16.67, weight: 'normal' },
        padding: { top: 12, bottom: 3 }
      }
    },
    scales: {
      x: {
        type: 'linear',
        min: -487,
        max: 10339,
        afterBuildTicks: s => { s.ticks = xTickValues.map(v => ({ value: v })); },
        afterFit: s => { s.height = 58; },
        title: {
          display: true,
          text: 'Sample #',
          color: '#000',
          font: { family: FONT, size: 13.9 },
          padding: { top: 0, bottom: 13 }
        },
        ticks: {
          color: '#000',
          font: { family: FONT, size: 13.9 },
          padding: 4,
          maxRotation: 0,
          autoSkip: false,
          callback: v => String(v)
        },
        grid: { color: '#b0b0b0', lineWidth: 1, tickColor: '#000', tickLength: 5 },
        border: { color: '#000' }
      },
      y: {
        type: 'linear',
        min: 6363.78,
        max: 6435.35,
        afterBuildTicks: s => { s.ticks = yTickValues.map(v => ({ value: v })); },
        afterFit: s => { s.width = 80; },
        title: {
          display: true,
          text: 'ADC Counts',
          color: '#000',
          font: { family: FONT, size: 13.9 },
          padding: { top: 13, bottom: 0 }
        },
        ticks: {
          color: '#000',
          font: { family: FONT, size: 13.9 },
          padding: 3,
          autoSkip: false,
          callback: v => String(v)
        },
        grid: { color: '#b0b0b0', lineWidth: 1, tickColor: '#000', tickLength: 5 },
        border: { color: '#000' }
      }
    }
  },
  plugins: [frameAndLegend]
});
</script>
</body>
</html>
